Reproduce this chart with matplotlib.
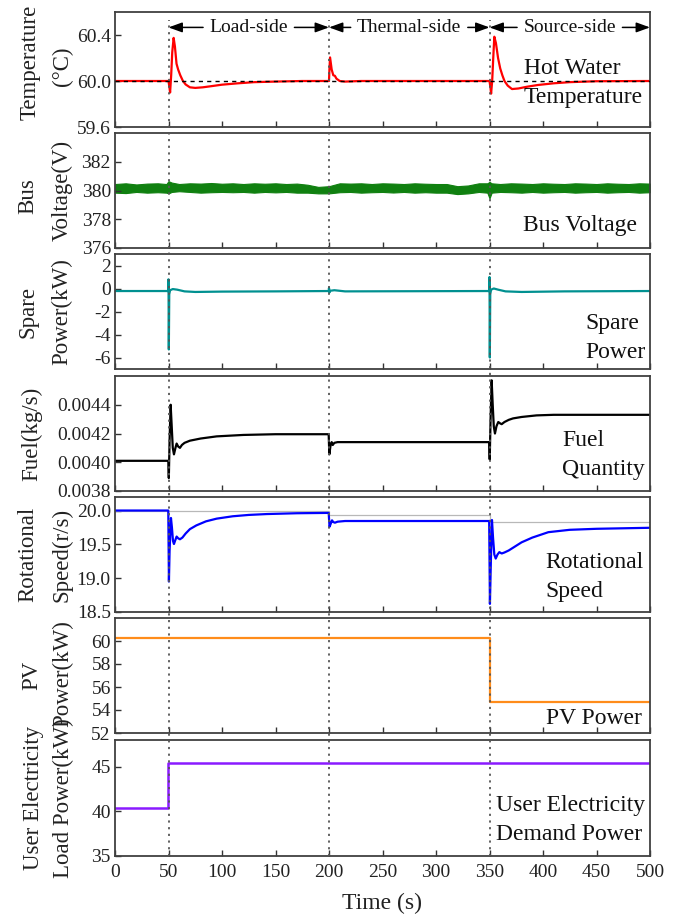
import matplotlib
matplotlib.use("Agg")
import matplotlib.pyplot as plt
from matplotlib.lines import Line2D
from matplotlib.transforms import blended_transform_factory
import numpy as np

plt.rcParams['font.family'] = ['Liberation Serif', 'DejaVu Serif']
plt.rcParams['axes.unicode_minus'] = False

# ---- data (time in s) ----
temp_setpoint = 60.0
temp_pts = [(0, 60.0), (50, 60.0), (50.8, 59.95), (51.5, 59.9), (52.5, 60.05), (53.5, 60.25),
            (54.8, 60.375), (56, 60.3), (57.5, 60.15), (59, 60.1), (61, 60.05), (63.5, 60.0),
            (66, 59.97), (70, 59.945), (75, 59.94), (82, 59.945), (90, 59.955), (100, 59.968),
            (115, 59.98), (130, 59.99), (150, 59.995), (175, 60.0), (200, 60.0), (200.4, 60.1),
            (201, 60.205), (202.5, 60.1), (204, 60.05), (205.5, 60.045), (207, 60.02), (210, 60.0),
            (215, 59.995), (230, 60.0), (350, 60.0), (350.8, 59.95), (351.5, 59.89), (352.5, 60.0),
            (353.5, 60.2), (354.5, 60.385), (356, 60.33), (358, 60.2), (360, 60.11), (362, 60.05),
            (364, 60.0), (367, 59.96), (371, 59.93), (377, 59.935), (385, 59.95), (395, 59.965),
            (410, 59.98), (425, 59.99), (450, 59.998), (500, 60.0)]

# bus voltage noise band: (time, lower, upper)
bus_band = [(0, 379.85, 380.45), (10, 379.82, 380.5), (20, 379.9, 380.42), (30, 379.85, 380.48),
            (40, 379.88, 380.5), (48, 379.85, 380.45), (50, 379.8, 380.65), (53, 379.9, 380.55),
            (60, 379.95, 380.45), (70, 379.9, 380.5), (80, 379.85, 380.48), (90, 379.88, 380.52),
            (100, 379.9, 380.47), (110, 379.88, 380.5), (120, 379.9, 380.45), (130, 379.85, 380.5),
            (140, 379.9, 380.47), (150, 379.87, 380.5), (160, 379.9, 380.45), (170, 379.85, 380.48),
            (180, 379.85, 380.4), (190, 379.8, 380.25), (200, 379.8, 380.3), (210, 379.88, 380.5),
            (220, 379.9, 380.48), (230, 379.85, 380.5), (240, 379.88, 380.45), (250, 379.9, 380.5),
            (260, 379.86, 380.48), (270, 379.9, 380.45), (280, 379.85, 380.5), (290, 379.88, 380.47),
            (300, 379.85, 380.45), (310, 379.85, 380.45), (320, 379.75, 380.3), (330, 379.8, 380.35),
            (340, 379.9, 380.5), (348, 379.85, 380.5), (350, 379.45, 380.6), (352, 379.85, 380.5),
            (360, 379.9, 380.45), (370, 379.88, 380.5), (380, 379.85, 380.48), (390, 379.9, 380.45),
            (400, 379.85, 380.5), (410, 379.88, 380.47), (420, 379.9, 380.45), (430, 379.85, 380.5),
            (440, 379.88, 380.48), (450, 379.9, 380.45), (460, 379.85, 380.5), (470, 379.88, 380.47),
            (480, 379.9, 380.45), (490, 379.85, 380.5), (500, 379.88, 380.48)]

spare_pts = [(0, -0.22), (49.7, -0.22), (50, 0.8), (50.3, -5.3), (50.7, -0.5), (51.5, -0.15),
             (54, -0.05), (58, -0.1), (65, -0.25), (75, -0.3), (100, -0.27), (150, -0.25),
             (199.7, -0.22), (200, 0.05), (200.4, -0.35), (201, -0.2), (205, -0.15), (215, -0.25),
             (349.7, -0.22), (350, 1.0), (350.3, -6.0), (350.7, -0.5), (351.5, -0.1), (354, 0.0),
             (358, -0.1), (365, -0.25), (380, -0.3), (420, -0.25), (500, -0.22)]

fuel_pts = [(0, 0.00401), (49.8, 0.00401), (50.3, 0.00389), (51, 0.00415), (52, 0.00440),
            (53, 0.00425), (54, 0.00410), (55.1, 0.004055), (56.5, 0.0041), (57.6, 0.00413),
            (59, 0.00411), (60.7, 0.0041), (62.5, 0.00412), (65, 0.004135), (70, 0.00415),
            (80, 0.004165), (95, 0.00418), (120, 0.00419), (150, 0.004195), (199.7, 0.004195),
            (200.3, 0.004055), (201.5, 0.00412), (202.5, 0.00414), (203.5, 0.00412), (205, 0.004135),
            (208, 0.00414), (349.7, 0.00414), (350.2, 0.00402), (351, 0.0043), (352, 0.00457),
            (353, 0.0044), (354, 0.00425), (355.1, 0.0042), (356.5, 0.00425), (358.2, 0.00428),
            (360, 0.00427), (361.4, 0.004265), (364, 0.00428), (368, 0.004295), (372, 0.004305),
            (380, 0.004315), (394, 0.004326), (410, 0.00433), (500, 0.00433)]

speed_pts = [(0, 20.0), (49.8, 20.0), (50.4, 18.95), (51, 19.4), (52.3, 19.89), (53.2, 19.75),
             (54.2, 19.55), (55.1, 19.505), (56.3, 19.56), (57.6, 19.615), (59, 19.59),
             (60.7, 19.575), (63, 19.6), (66, 19.66), (70, 19.725), (76, 19.78), (85, 19.84),
             (95, 19.88), (110, 19.915), (125, 19.935), (142, 19.948), (170, 19.96), (199.7, 19.965),
             (200.5, 19.76), (201.5, 19.8), (202.8, 19.855), (204, 19.83), (205.5, 19.82),
             (208, 19.835), (215, 19.845), (349.7, 19.845), (350.4, 18.62), (351.2, 19.2),
             (352.3, 19.86), (353.3, 19.6), (354.5, 19.35), (355.8, 19.29), (357.5, 19.35),
             (359.2, 19.385), (361.4, 19.365), (364, 19.38), (368, 19.41), (372, 19.45),
             (380, 19.53), (390, 19.6), (405, 19.68), (425, 19.715), (450, 19.73), (500, 19.745)]
speed_ref_t = [0, 200, 200, 350, 350, 500]
speed_ref_v = [20.0, 20.0, 19.94, 19.94, 19.825, 19.825]

pv_pts = [(0, 60.3), (350, 60.3), (350, 54.7), (500, 54.7)]
user_pts = [(0, 40.4), (49.8, 40.4), (49.8, 45.4), (500, 45.4)]

event_times = [50, 200, 350]
section_names = ["Load-side", "Thermal-side", "Source-side"]
section_edges = [50, 200, 350, 500]

# ---- figure layout in pixels ----
W, H = 686, 916
fig = plt.figure(figsize=(W / 100, H / 100), dpi=100)
L, R = 115, 650
tops = [12, 133, 254, 376, 497, 618, 740]
bottoms = [127, 248, 369, 491, 612, 733, 856]

panels = [
    dict(ylim=(59.6, 60.6), yticks=[59.6, 60.0, 60.4], fmt="{:.1f}",
         ylab=[("Temperature", 30, 0.56), ("(°C)", 62, 0.53)],
         name=["Hot Water", "Temperature"], nx=524, ny=[68, 98]),
    dict(ylim=(376, 384), yticks=[376, 378, 380, 382], fmt="{:.0f}",
         ylab=[("Bus", 28, 0.45), ("Voltage(V)", 62, 0.5)],
         name=["Bus Voltage"], nx=523, ny=[225]),
    dict(ylim=(-7, 3), yticks=[-6, -4, -2, 0, 2], fmt="{:.0f}",
         ylab=[("Spare", 28, 0.5), ("Power(kW)", 62, 0.5)],
         name=["Spare", "Power"], nx=585, ny=[323, 352]),
    dict(ylim=(0.0038, 0.0046), yticks=[0.0038, 0.0040, 0.0042, 0.0044], fmt="{:.4f}",
         ylab=[("Fuel(kg/s)", 32, 0.5)],
         name=["Fuel", "Quantity"], nx=562, ny=[440, 470]),
    dict(ylim=(18.5, 20.2), yticks=[18.5, 19.0, 19.5, 20.0], fmt="{:.1f}",
         ylab=[("Rotational", 28, 0.5), ("Speed(r/s)", 62, 0.5)],
         name=["Rotational", "Speed"], nx=545, ny=[563, 592]),
    dict(ylim=(52, 62), yticks=[52, 54, 56, 58, 60], fmt="{:.0f}",
         ylab=[("PV", 32, 0.5), ("Power(kW)", 63, 0.52)],
         name=["PV Power"], nx=546, ny=[718]),
    dict(ylim=(35, 48), yticks=[35, 40, 45], fmt="{:.0f}",
         ylab=[("User Electricity", 33, 0.5), ("Load Power(kW)", 63, 0.5)],
         name=["User Electricity", "Demand Power"], nx=496, ny=[806, 835]),
]

axes = []
for i, p in enumerate(panels):
    ax = fig.add_axes([L / W, 1 - bottoms[i] / H, (R - L) / W, (bottoms[i] - tops[i]) / H])
    ax.set_xlim(0, 500)
    ax.set_ylim(*p["ylim"])
    ax.set_yticks(p["yticks"])
    ax.set_yticklabels([p["fmt"].format(v) for v in p["yticks"]])
    ax.set_xticks(np.arange(0, 501, 50))
    ax.tick_params(direction='in', length=4, width=1, colors='#333333', labelsize=14,
                   labelcolor='#222222', pad=3, top=False, right=False)
    ax.tick_params(axis='x', pad=6)
    if i < len(panels) - 1:
        ax.set_xticklabels([])
    for s in ax.spines.values():
        s.set_color('#404040')
        s.set_linewidth(1.3)
    tr = blended_transform_factory(fig.transFigure, ax.transAxes)
    for txt, xpx, yfrac in p["ylab"]:
        ax.text(xpx / W, yfrac, txt, transform=tr, rotation=90, rotation_mode='anchor',
                ha='center', va='center', fontsize=16.5, color='#222222')
    for line, ypx in zip(p["name"], p["ny"]):
        fig.text(p["nx"] / W, 1 - ypx / H, line, ha='left', va='center',
                 fontsize=17, color='#111111')
    axes.append(ax)

def xy(pts):
    return [a for a, b in pts], [b for a, b in pts]

# 1 temperature
t, v = xy(temp_pts)
axes[0].plot(t, v, color='#ff0000', lw=1.6, zorder=2)
axes[0].axhline(temp_setpoint, color='black', lw=1.0, ls=(0, (3, 3)), zorder=3)

# 2 bus voltage
bt = [a for a, b, c in bus_band]
blo = [b for a, b, c in bus_band]
bhi = [c for a, b, c in bus_band]
axes[1].fill_between(bt, blo, bhi, color='#108010', lw=0.8, edgecolor='#108010')

# 3 spare power
t, v = xy(spare_pts)
axes[2].plot(t, v, color='#009090', lw=1.6)

# 4 fuel
t, v = xy(fuel_pts)
axes[3].plot(t, v, color='black', lw=1.6)

# 5 rotational speed
axes[4].plot(speed_ref_t, speed_ref_v, color='#b8b8b8', lw=0.9)
t, v = xy(speed_pts)
axes[4].plot(t, v, color='#0000ff', lw=1.6)

# 6 PV
t, v = xy(pv_pts)
axes[5].plot(t, v, color='#ff8c1a', lw=1.6)

# 7 user load
t, v = xy(user_pts)
axes[6].plot(t, v, color='#8a1aff', lw=1.8)
axes[6].set_xticklabels([str(x) for x in range(0, 501, 50)])
trx = blended_transform_factory(axes[6].transData, fig.transFigure)
axes[6].text(250, 1 - 893 / H, "Time (s)", transform=trx, ha='center', va='top',
             fontsize=17, color='#222222')

# dotted event lines spanning all panels
for te in event_times:
    fig.add_artist(Line2D([te, te], [1 - 856 / H, 1 - 20 / H], transform=trx,
                          ls=(0, (1.2, 2.5)), color='#555555', lw=1.3, zorder=5))

# section annotations
arrow_y = 60.466
ax0 = axes[0]
fig.canvas.draw()
rend = fig.canvas.get_renderer()
inv = ax0.transData.inverted()
for name, a, b in zip(section_names, section_edges[:-1], section_edges[1:]):
    mid = (a + b) / 2
    tx = ax0.text(mid, arrow_y, name, ha='center', va='center', fontsize=14, color='#111111')
    bb = tx.get_window_extent(rend)
    x0 = inv.transform((bb.x0, bb.y0))[0]
    x1 = inv.transform((bb.x1, bb.y0))[0]
    for start, end in [(x0 - 6, a), (x1 + 6, b)]:
        ax0.annotate('', xy=(end, arrow_y), xytext=(start, arrow_y), annotation_clip=False,
                     arrowprops=dict(arrowstyle='-|>,head_length=0.55,head_width=0.2',
                                     color='black', lw=1.1, shrinkA=0, shrinkB=0,
                                     mutation_scale=15))

fig.savefig("out.png", dpi=100)
